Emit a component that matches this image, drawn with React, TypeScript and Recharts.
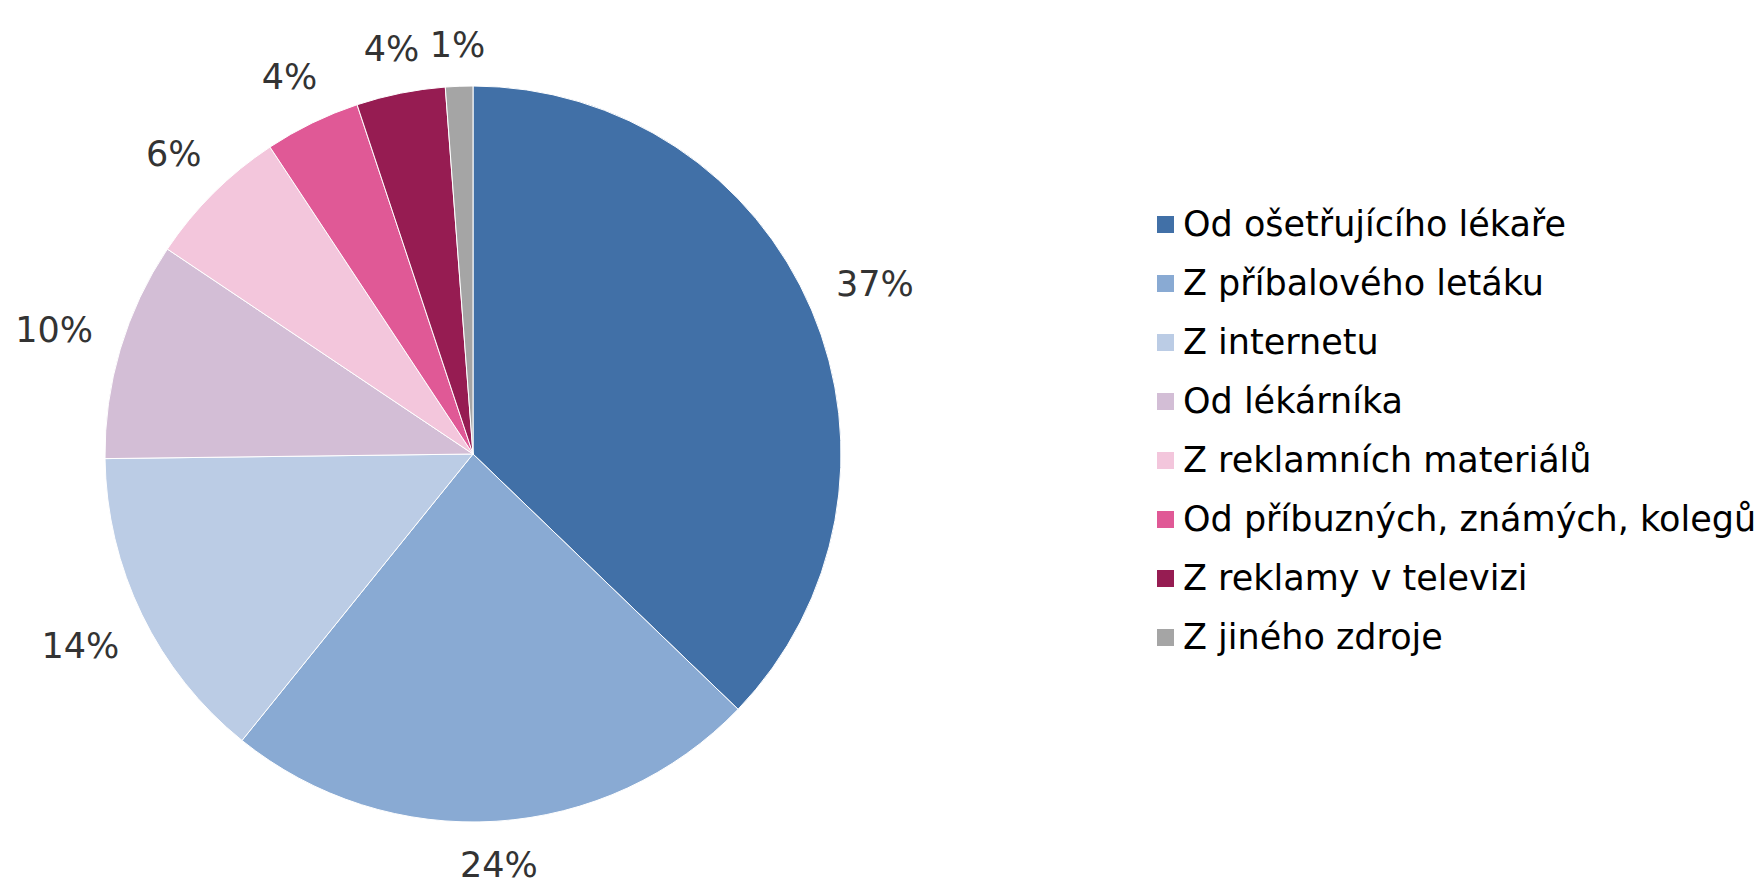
import React from "react";
import { PieChart, Pie, Cell, Legend } from "recharts";

const categories = [
  "Od ošetřujícího lékaře",
  "Z příbalového letáku",
  "Z internetu",
  "Od lékárníka",
  "Z reklamních materiálů",
  "Od příbuzných, známých, kolegů",
  "Z reklamy v televizi",
  "Z jiného zdroje",
];
const shares = [37.2, 23.6, 14.0, 9.6, 6.3, 4.2, 3.9, 1.2];
const colors = [
  "#4170A7",
  "#89AAD3",
  "#BBCCE5",
  "#D3BED6",
  "#F3C6DC",
  "#E05996",
  "#961C52",
  "#A5A5A5",
];

const data = categories.map((name, i) => ({ name, value: shares[i] }));

const FONT = "'DejaVu Sans', Verdana, sans-serif";
const LABEL_SIZE = 35;
const RAD = Math.PI / 180;

const renderLabel = (props: any) => {
  const { cx, cy, midAngle, outerRadius, percent } = props;
  const text = `${Math.round(percent * 100)}%`;
  const digits = text.length - 1;
  const w = LABEL_SIZE * (0.636 * digits + 0.95);
  const h = LABEL_SIZE * 0.729;
  const dx = Math.cos(-midAngle * RAD);
  const dy = Math.sin(-midAngle * RAD);
  const gap = 28;
  const support = Math.abs(dx) * (w / 2) + Math.abs(dy) * (h / 2);
  const d = outerRadius + gap + support;
  const x = cx + d * dx;
  const y = cy + d * dy;
  return (
    <text
      x={x}
      y={y + h / 2}
      textAnchor="middle"
      fill="#333333"
      fontSize={LABEL_SIZE}
      fontFamily={FONT}
    >
      {text}
    </text>
  );
};

const LegendContent = () => (
  <div style={{ fontFamily: FONT, fontSize: 35, color: "#000" }}>
    {categories.map((c, i) => (
      <div
        key={c}
        style={{
          display: "flex",
          alignItems: "center",
          height: 59,
          whiteSpace: "nowrap",
        }}
      >
        <span
          style={{
            display: "inline-block",
            width: 17,
            height: 17,
            background: colors[i],
            marginRight: 9,
            flex: "none",
          }}
        />
        <span style={{ lineHeight: "41px" }}>{c}</span>
      </div>
    ))}
  </div>
);

export default function App() {
  return (
    <div style={{ position: "absolute", left: 0, top: 0, background: "#fff" }}>
      <PieChart width={1755} height={878} margin={{ top: 0, right: 0, bottom: 0, left: 0 }}>
        <Pie
          data={data}
          dataKey="value"
          nameKey="name"
          cx={473}
          cy={454}
          outerRadius={368}
          startAngle={90}
          endAngle={-270}
          stroke="#ffffff"
          strokeWidth={1}
          label={renderLabel}
          labelLine={false}
          isAnimationActive={false}
        >
          {data.map((d, i) => (
            <Cell key={d.name} fill={colors[i]} />
          ))}
        </Pie>
        <Legend
          layout="vertical"
          align="right"
          verticalAlign="top"
          content={<LegendContent />}
          wrapperStyle={{ position: "absolute", left: 1157, top: 195, width: 598 }}
        />
      </PieChart>
    </div>
  );
}
